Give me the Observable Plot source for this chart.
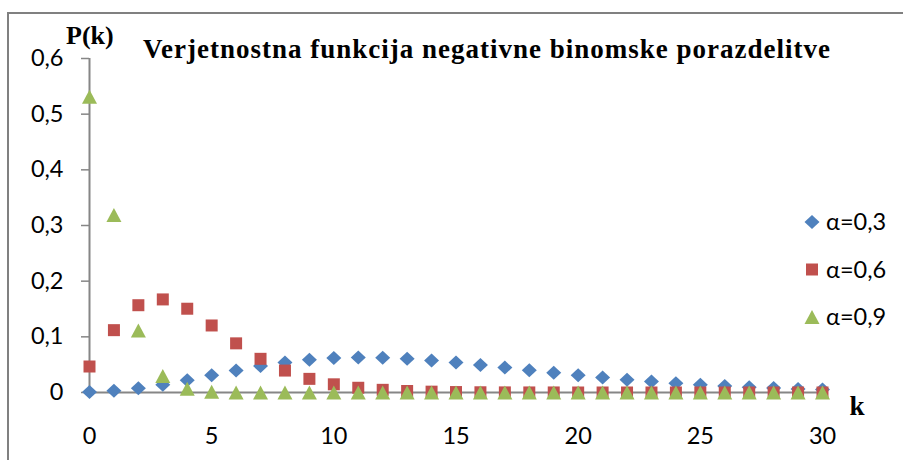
<!DOCTYPE html>
<html>
<head>
<meta charset="utf-8">
<script src="https://cdn.jsdelivr.net/npm/d3@7"></script>
<script src="https://cdn.jsdelivr.net/npm/@observablehq/plot@0.6"></script>
<style>
  html, body { margin: 0; padding: 0; background: #fff; overflow: hidden; }
  #chart { position: relative; width: 903px; height: 460px; overflow: hidden; }
  #chart svg { position: absolute; left: 0; top: 0; }
  #frame { position: absolute; left: 7px; top: 12px; width: 1000px; height: 1000px; border: 2px solid #808080; pointer-events: none; z-index: 2; }
</style>
</head>
<body>
<div id="chart"><div id="frame"></div></div>
<script>
// ---------- data ----------
const kValues = [0,1,2,3,4,5,6,7,8,9,10,11,12,13,14,15,16,17,18,19,20,21,22,23,24,25,26,27,28,29,30];
const seriesLabels = ["α=0,3", "α=0,6", "α=0,9"];
const p03 = [0.0007,0.0031,0.0075,0.0140,0.0221,0.0309,0.0396,0.0475,0.0541,0.0589,0.0618,0.0630,0.0624,0.0605,0.0575,0.0537,0.0493,0.0447,0.0399,0.0353,0.0309,0.0268,0.0230,0.0196,0.0166,0.0139,0.0116,0.0096,0.0080,0.0065,0.0053];
const p06 = [0.0467,0.1120,0.1568,0.1672,0.1505,0.1204,0.0883,0.0605,0.0394,0.0245,0.0147,0.0085,0.0048,0.0027,0.0015,0.0008,0.0004,0.0002,0.0001,0.0001,0,0,0,0,0,0,0,0,0,0,0];
const p09 = [0.5314,0.3189,0.1116,0.0298,0.0067,0.0013,0.0002,0,0,0,0,0,0,0,0,0,0,0,0,0,0,0,0,0,0,0,0,0,0,0,0];
const yTicks = [0,0.1,0.2,0.3,0.4,0.5,0.6];
const xTicks = [0,5,10,15,20,25,30];
const titleText = "Verjetnostna funkcija negativne binomske porazdelitve";
const yLabelText = "P(k)";
const xLabelText = "k";

// ---------- styles ----------
const colors = ["#4F81BD", "#C0504D", "#9BBB59"];
const axisGray = "#868686";
const sans = "Lato, 'Open Sans', sans-serif";
const serif = "'Liberation Serif', 'DejaVu Serif', serif";
const fs = 23.5;

const diamondSym = { draw(ctx) { ctx.moveTo(0,-7); ctx.lineTo(7.5,0); ctx.lineTo(0,7); ctx.lineTo(-7.5,0); ctx.closePath(); } };
const squareSym = { draw(ctx) { ctx.moveTo(-6,-6); ctx.lineTo(6,-6); ctx.lineTo(6,6); ctx.lineTo(-6,6); ctx.closePath(); } };
const triangleSym = { draw(ctx) { ctx.moveTo(0,-7); ctx.lineTo(7.5,7); ctx.lineTo(-7.5,7); ctx.closePath(); } };
const symbols = [diamondSym, squareSym, triangleSym];

const seriesValues = [p03, p06, p09];
const rows = seriesValues.map((vals, i) => kValues.map((k, j) => ({ k, p: vals[j], s: seriesLabels[i] })));

const fmt = d => d === 0 ? "0" : String(d).replace(".", ",");

const svg = Plot.plot({
  width: 903, height: 460, marginLeft: 89, marginRight: 81, marginTop: 58, marginBottom: 68,
  style: { background: "#fff", color: "#000", fontFamily: sans, fontSize: fs + "px", overflow: "visible" },
  x: { domain: [0, 30], label: null },
  y: { domain: [0, 0.6], label: null },
  marks: [
    Plot.ruleY([0], { stroke: axisGray, strokeWidth: 2 }),
    Plot.ruleX([0], { stroke: axisGray, strokeWidth: 2 }),
    Plot.axisY({ ticks: yTicks, tickSize: 8, tickPadding: 18, tickFormat: fmt, stroke: axisGray, strokeWidth: 1.5, fontSize: fs, label: null }),
    Plot.axisX({ ticks: xTicks, tickSize: 5, tickPadding: 30, tickFormat: fmt, stroke: axisGray, strokeWidth: 1.5, fontSize: fs, label: null }),
    ...rows.map((r, i) => Plot.dot(r, { x: "k", y: "p", symbol: symbols[i], r: 6, fill: colors[i], stroke: null }))
  ]
});

const s = d3.select(svg);
// title
s.append("text").attr("x", 143).attr("y", 58).attr("text-anchor", "start")
  .attr("font-family", serif).attr("font-weight", "bold").attr("font-size", 27)
  .attr("textLength", 687).attr("lengthAdjust", "spacing").attr("fill", "#000").text(titleText);
// axis titles
s.append("text").attr("x", 66).attr("y", 44).attr("text-anchor", "start").attr("font-family", serif).attr("font-weight", "bold").attr("font-size", 26).attr("fill", "#000").text(yLabelText);
s.append("text").attr("x", 857).attr("y", 415).attr("text-anchor", "middle").attr("font-family", serif).attr("font-weight", "bold").attr("font-size", 27).attr("fill", "#000").text(xLabelText);
// legend
const legendY = [222, 269.5, 317];
seriesLabels.forEach((lab, i) => {
  s.append("path").attr("transform", `translate(812,${legendY[i]})`).attr("d", d3.symbol(symbols[i])()).attr("fill", colors[i]);
  s.append("text").attr("x", 826).attr("y", legendY[i]).attr("dy", "0.35em").attr("text-anchor", "start").attr("font-family", sans).attr("font-size", fs).attr("fill", "#000").text(lab);
});

document.getElementById("chart").insertBefore(svg, document.getElementById("frame"));
</script>
</body>
</html>
